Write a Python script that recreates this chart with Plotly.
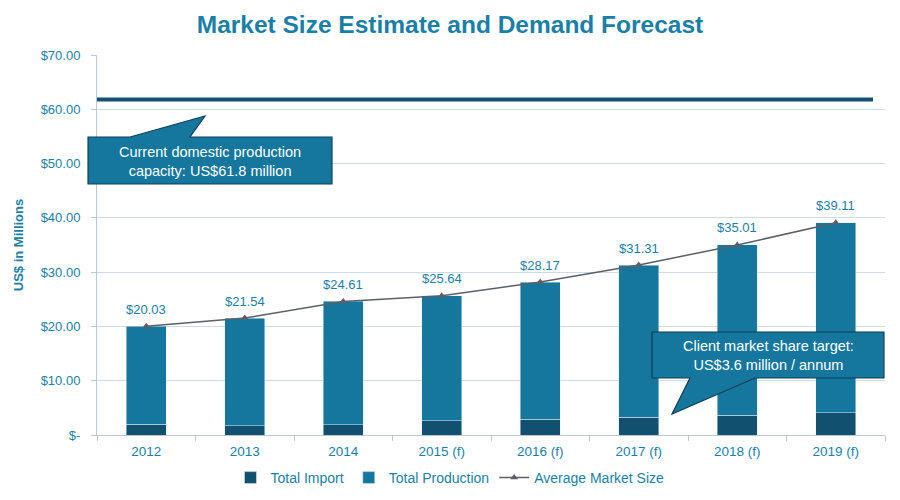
import plotly.graph_objects as go

years = ["2012", "2013", "2014", "2015 (f)", "2016 (f)", "2017 (f)", "2018 (f)", "2019 (f)"]
market_size = [20.03, 21.54, 24.61, 25.64, 28.17, 31.31, 35.01, 39.11]
total_import = [2.0, 1.7, 1.85, 2.6, 2.9, 3.3, 3.6, 4.1]
total_production = [round(m - i, 2) for m, i in zip(market_size, total_import)]
capacity = 61.8
y_tick_vals = [0, 10, 20, 30, 40, 50, 60, 70]
y_tick_text = ["$-", "$10.00", "$20.00", "$30.00", "$40.00", "$50.00", "$60.00", "$70.00"]
labels = ["$%.2f" % v for v in market_size]

FONT = "Liberation Sans, Arial, sans-serif"
TEAL = "#1a7fa8"
C_IMPORT = "#12506f"
C_PROD = "#15779d"
C_LINE = "#5b6068"

OFF = 8  # page body margin offset
W, H = 900 - OFF, 500 - OFF
L = 97 - OFF
T = 55 - OFF
R = W - (885 - OFF)
B = H - (435 - OFF)
PW, PH = W - L - R, H - T - B


def px(x, y):
    # window pixel coords -> paper coords
    x -= OFF
    y -= OFF
    return ((x - L) / PW, (H - B - y) / PH)


def path(points):
    pts = [px(x, y) for x, y in points]
    return "M " + " L ".join("%.4f,%.4f" % p for p in pts) + " Z"


fig = go.Figure()
fig.add_trace(go.Bar(x=years, y=total_import, name="Total Import",
                     marker=dict(color=C_IMPORT), width=0.41))
fig.add_trace(go.Bar(x=years, y=total_production, name="Total Production",
                     marker=dict(color=C_PROD), width=0.41))
fig.add_trace(go.Scatter(x=years, y=market_size, name="Average Market Size",
                         mode="lines+markers",
                         line=dict(color=C_LINE, width=1.5),
                         marker=dict(symbol="triangle-up", size=7, color=C_LINE)))

shapes = [
    dict(type="line", xref="paper", yref="y", x0=0, x1=px(873, 0)[0],
         y0=capacity, y1=capacity, line=dict(color="#14506f", width=4)),
    dict(type="path", xref="paper", yref="paper",
         path=path([(88, 137), (130, 137), (205, 116), (190, 137), (332, 137),
                    (332, 184), (88, 184)]),
         fillcolor=C_PROD, line=dict(color="#0f3f57", width=1.2)),
    dict(type="path", xref="paper", yref="paper",
         path=path([(652, 332), (884, 332), (884, 378), (755, 378), (672, 414),
                    (690, 378), (652, 378)]),
         fillcolor=C_PROD, line=dict(color="#0f3f57", width=1.2)),
]

ann = []
for i, (v, lab) in enumerate(zip(market_size, labels)):
    ann.append(dict(x=i, y=v, xref="x", yref="y", text=lab, showarrow=False,
                    xanchor="center", yanchor="middle", yshift=17,
                    font=dict(color=TEAL, size=13, family=FONT)))
cx, cy = px(210, 161)
ann.append(dict(xref="paper", yref="paper", x=cx, y=cy, xanchor="center", yanchor="middle",
                showarrow=False,
                text="Current domestic production<br>capacity: US$61.8 million",
                font=dict(color="white", size=14.5, family=FONT), align="center"))
cx, cy = px(768, 355)
ann.append(dict(xref="paper", yref="paper", x=cx, y=cy, xanchor="center", yanchor="middle",
                showarrow=False,
                text="Client market share target:<br>US$3.6 million / annum",
                font=dict(color="white", size=14.5, family=FONT), align="center"))

fig.update_layout(
    width=W, height=H,
    margin=dict(l=L, r=R, t=T, b=B, autoexpand=False),
    paper_bgcolor="white", plot_bgcolor="white",
    barmode="stack",
    font=dict(family=FONT, color=TEAL),
    title=dict(text="<b>Market Size Estimate and Demand Forecast</b>",
               x=(450 - OFF) / W, xanchor="center", y=1 - (24 - OFF) / H, yanchor="middle",
               xref="container", yref="container",
               font=dict(size=24.5, color=TEAL, family=FONT)),
    legend=dict(orientation="h", x=(450 - OFF) / W, xanchor="center", xref="container",
                y=1 - (478 - OFF) / H, yanchor="middle", yref="container",
                font=dict(size=14, color=TEAL, family=FONT), traceorder="normal"),
    shapes=shapes, annotations=ann, showlegend=True,
)
fig.update_xaxes(type="category", categoryarray=years, categoryorder="array",
                 range=[-0.5, len(years) - 0.5],
                 ticks="outside", tickson="boundaries", ticklen=5, ticklabelstandoff=4,
                 tickcolor="#b8c8d8", showline=True, linecolor="#b8c8d8", automargin=False,
                 tickfont=dict(size=13.5, color=TEAL), showgrid=False)
fig.update_yaxes(range=[0, 70], tickvals=y_tick_vals, ticktext=y_tick_text,
                 ticks="outside", ticklen=5, tickcolor="#b8c8d8", automargin=False,
                 ticklabelstandoff=8,
                 showline=True, linecolor="#b8c8d8", gridcolor="#cddbe7",
                 tickfont=dict(size=13, color=TEAL), zeroline=False,
                 title=dict(text="<b>US$ in Millions</b>", font=dict(size=13, color=TEAL), standoff=14))
fig.write_html("out.html")
